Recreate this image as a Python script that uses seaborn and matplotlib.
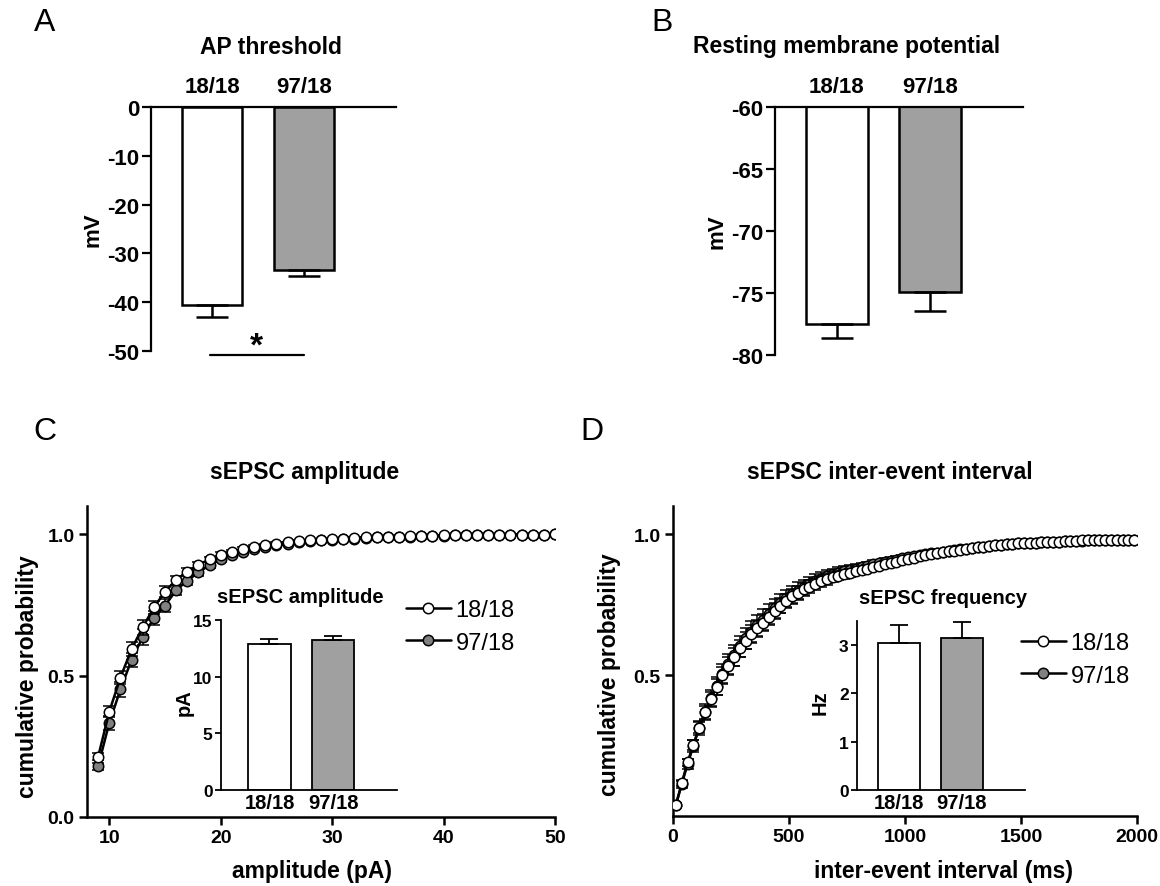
import numpy as np
import pandas as pd
import matplotlib
matplotlib.use("Agg")
import matplotlib.pyplot as plt
import seaborn as sns

# ---- data ----
groups = ["18/18", "97/18"]
bar_colors = ["white", "#a0a0a0"]
dot_colors = ["white", "#808080"]

ap_mean = [-40.6, -33.5]      # mV
ap_sem = [2.4, 1.1]

rmp_mean = [-77.5, -74.9]     # mV
rmp_sem = [1.15, 1.55]

amp_mean = [12.92, 13.24]     # pA
amp_sem = [0.44, 0.32]

freq_mean = [3.04, 3.15]      # Hz
freq_sem = [0.37, 0.33]

# cumulative amplitude distribution, 1 pA bins
amp_x = list(range(9, 51))
amp_18 = [0.213, 0.373, 0.493, 0.594, 0.671, 0.741, 0.797, 0.838, 0.868, 0.891,
          0.912, 0.928, 0.939, 0.948, 0.956, 0.962, 0.967, 0.971, 0.975, 0.978,
          0.981, 0.983, 0.985, 0.987, 0.989, 0.990, 0.991, 0.992, 0.993, 0.994,
          0.995, 0.996, 0.996, 0.997, 0.997, 0.998, 0.998, 0.998, 0.999, 0.999,
          0.999, 1.000]
amp_97 = [0.180, 0.333, 0.451, 0.556, 0.636, 0.704, 0.748, 0.802, 0.836, 0.865,
          0.891, 0.912, 0.927, 0.939, 0.948, 0.956, 0.962, 0.967, 0.971, 0.975,
          0.978, 0.981, 0.983, 0.985, 0.987, 0.989, 0.990, 0.991, 0.992, 0.993,
          0.994, 0.995, 0.996, 0.996, 0.997, 0.997, 0.998, 0.998, 0.999, 0.999,
          0.999, 1.000]
amp_18_sem = [0.012, 0.020, 0.024, 0.026, 0.026, 0.024, 0.020, 0.016, 0.013, 0.011,
              0.009, 0.008, 0.007, 0.006, 0.005, 0.004, 0.004, 0.003, 0.003, 0.003,
              0.002, 0.002, 0.002, 0.002, 0.002, 0.001, 0.001, 0.001, 0.001, 0.001,
              0.001, 0.001, 0.001, 0.001, 0.001, 0.001, 0.001, 0.001, 0.001, 0.001,
              0.001, 0.001]
amp_97_sem = [0.012, 0.026, 0.025, 0.024, 0.028, 0.026, 0.024, 0.018, 0.015, 0.012,
              0.010, 0.009, 0.008, 0.007, 0.006, 0.005, 0.004, 0.004, 0.003, 0.003,
              0.003, 0.002, 0.002, 0.002, 0.002, 0.002, 0.001, 0.001, 0.001, 0.001,
              0.001, 0.001, 0.001, 0.001, 0.001, 0.001, 0.001, 0.001, 0.001, 0.001,
              0.001, 0.001]

# cumulative inter-event interval distribution, 25 ms bins (bin centres)
iei_x = np.arange(12.5, 2000, 25)
iei_18 = [0.039, 0.116, 0.190, 0.252, 0.314, 0.368, 0.415, 0.459, 0.500, 0.533,
          0.565, 0.595, 0.622, 0.645, 0.666, 0.686, 0.706, 0.727, 0.746, 0.763,
          0.779, 0.792, 0.804, 0.814, 0.824, 0.833, 0.840, 0.847, 0.853, 0.858,
          0.863, 0.868, 0.873, 0.878, 0.883, 0.888, 0.893, 0.898, 0.903, 0.907,
          0.912, 0.917, 0.921, 0.925, 0.929, 0.932, 0.936, 0.939, 0.942, 0.945,
          0.948, 0.951, 0.953, 0.955, 0.958, 0.960, 0.962, 0.964, 0.966, 0.967,
          0.968, 0.969, 0.970, 0.971, 0.972, 0.973, 0.974, 0.975, 0.976, 0.977,
          0.978, 0.978, 0.979, 0.979, 0.980, 0.980, 0.980, 0.981, 0.981, 0.981]
iei_97 = [0.040, 0.112, 0.184, 0.248, 0.312, 0.368, 0.417, 0.462, 0.504, 0.538,
          0.571, 0.602, 0.630, 0.654, 0.676, 0.697, 0.717, 0.737, 0.755, 0.772,
          0.787, 0.800, 0.812, 0.823, 0.833, 0.842, 0.850, 0.857, 0.863, 0.868,
          0.873, 0.878, 0.883, 0.888, 0.893, 0.897, 0.902, 0.906, 0.910, 0.914,
          0.918, 0.922, 0.926, 0.929, 0.932, 0.935, 0.938, 0.941, 0.944, 0.947,
          0.949, 0.952, 0.954, 0.956, 0.958, 0.960, 0.962, 0.964, 0.965, 0.967,
          0.968, 0.969, 0.970, 0.971, 0.972, 0.973, 0.974, 0.975, 0.976, 0.977,
          0.977, 0.978, 0.978, 0.979, 0.979, 0.980, 0.980, 0.980, 0.981, 0.981]
iei_18_sem = [0.005, 0.010, 0.014, 0.018, 0.021, 0.024, 0.026, 0.028, 0.029, 0.030,
              0.031, 0.031, 0.031, 0.031, 0.030, 0.030, 0.029, 0.028, 0.027, 0.026,
              0.025, 0.024, 0.023, 0.022, 0.021, 0.020, 0.019, 0.018, 0.017, 0.016,
              0.015, 0.014, 0.013, 0.013, 0.012, 0.011, 0.011, 0.010, 0.010, 0.009,
              0.009, 0.008, 0.008, 0.008, 0.007, 0.007, 0.007, 0.006, 0.006, 0.006,
              0.006, 0.005, 0.005, 0.005, 0.005, 0.005, 0.004, 0.004, 0.004, 0.004,
              0.004, 0.004, 0.004, 0.004, 0.003, 0.003, 0.003, 0.003, 0.003, 0.003,
              0.003, 0.003, 0.003, 0.003, 0.003, 0.003, 0.003, 0.003, 0.003, 0.003]
iei_97_sem = [0.005, 0.012, 0.017, 0.021, 0.025, 0.028, 0.031, 0.033, 0.035, 0.036,
              0.037, 0.038, 0.038, 0.038, 0.037, 0.036, 0.035, 0.034, 0.033, 0.031,
              0.030, 0.029, 0.027, 0.026, 0.025, 0.023, 0.022, 0.021, 0.020, 0.019,
              0.018, 0.017, 0.016, 0.015, 0.014, 0.013, 0.013, 0.012, 0.011, 0.011,
              0.010, 0.010, 0.009, 0.009, 0.008, 0.008, 0.008, 0.007, 0.007, 0.007,
              0.006, 0.006, 0.006, 0.006, 0.005, 0.005, 0.005, 0.005, 0.005, 0.004,
              0.004, 0.004, 0.004, 0.004, 0.004, 0.004, 0.004, 0.004, 0.004, 0.004,
              0.004, 0.004, 0.004, 0.004, 0.004, 0.004, 0.004, 0.004, 0.004, 0.004]

# ---- style ----
sns.set_style("ticks")
plt.rcParams["font.family"] = ["Liberation Sans", "DejaVu Sans"]
plt.rcParams["font.weight"] = "bold"
plt.rcParams["axes.labelweight"] = "bold"
plt.rcParams["axes.unicode_minus"] = False
for key in ["text.color", "axes.labelcolor", "xtick.color", "ytick.color",
            "axes.edgecolor"]:
    plt.rcParams[key] = "black"

W, H = 1160, 887
fig = plt.figure(figsize=(W / 100, H / 100), dpi=100)


def px_box(left, top, right, bottom):
    return [left / W, 1 - bottom / H, (right - left) / W, (bottom - top) / H]


def bar_panel(ax, means, sems, lw, capsize, down=True):
    df = pd.DataFrame({"group": groups, "val": means})
    sns.barplot(data=df, x="group", y="val", hue="group", order=groups,
                hue_order=groups, palette=bar_colors, width=0.66,
                edgecolor="black", linewidth=lw, errorbar=None,
                legend=False, ax=ax)
    zeros = [0] * len(sems)
    yerr = [sems, zeros] if down else [zeros, sems]
    ax.errorbar(range(len(means)), means, yerr=yerr, fmt="none",
                ecolor="black", elinewidth=lw, capsize=capsize, capthick=lw,
                zorder=4)
    ax.set_xlabel("")


def style_top_bar(ax, ylim, yticks, title, title_x):
    ax.set_ylim(*ylim)
    ax.set_xlim(-0.665, 2.0)
    ax.set_yticks(yticks)
    ax.xaxis.tick_top()
    ax.tick_params(axis="x", length=0, labelsize=16, pad=7)
    ax.tick_params(axis="y", length=6.5, width=1.6, labelsize=16, pad=2)
    for s in ["bottom", "right"]:
        ax.spines[s].set_visible(False)
    for s in ["top", "left"]:
        ax.spines[s].set_linewidth(1.6)
    ax.set_ylabel("mV", fontsize=16)
    ax.yaxis.label.set_va("center")
    ax.yaxis.set_label_coords(-0.235, 0.5)
    ax.text(title_x, 1.25, title, transform=ax.transAxes, ha="center",
            va="center", fontsize=16.5, weight="bold")


# ---- A: AP threshold ----
axA = fig.add_axes(px_box(151, 108, 396, 352))
bar_panel(axA, ap_mean, ap_sem, 1.8, 11.5)
style_top_bar(axA, (-50, 0), range(-50, 1, 10), "AP threshold", 0.49)
axA.plot([-0.02, 1.0], [-50.8, -50.8], color="black", lw=1.6, clip_on=False)
axA.text(0.48, -49.0, "*", fontsize=24, ha="center", va="center",
         weight="bold", clip_on=False)

# ---- B: resting membrane potential ----
axB = fig.add_axes(px_box(775, 108, 1023, 356))
bar_panel(axB, rmp_mean, rmp_sem, 1.8, 11.5)
style_top_bar(axB, (-80, -60), range(-80, -59, 5),
              "Resting membrane potential", 0.29)


# ---- cumulative plots ----
def cum_panel(ax, x, y18, y97, s18, s97):
    for y, s, fc, lab, z in [(y97, s97, dot_colors[1], groups[1], 2),
                             (y18, s18, dot_colors[0], groups[0], 4)]:
        ax.errorbar(x, y, yerr=s, fmt="none", ecolor="black", elinewidth=1.1,
                    capsize=4, capthick=1.1, zorder=z)
        sns.lineplot(x=x, y=y, ax=ax, color="black", lw=1.8, marker="o",
                     markersize=7.5, markerfacecolor=fc,
                     markeredgecolor="black", markeredgewidth=1.1,
                     label=lab, zorder=z + 1)
    ax.set_ylim(0, 1.1)
    for s in ["top", "right"]:
        ax.spines[s].set_visible(False)
    for s in ["left", "bottom"]:
        ax.spines[s].set_linewidth(1.8)
    ax.tick_params(length=6, width=1.8, labelsize=14, pad=3)
    ax.set_ylabel("cumulative probability", fontsize=16.5)
    ax.yaxis.label.set_va("center")


def cum_legend(ax, left, top):
    h, l = ax.get_legend_handles_labels()
    order = [l.index(g) for g in groups]
    ax.legend([h[i] for i in order], [l[i] for i in order], loc="upper left",
              bbox_to_anchor=(left / W, 1 - top / H),
              bbox_transform=fig.transFigure, frameon=False,
              prop={"family": ["Liberation Sans"], "size": 17,
                    "weight": "normal"},
              handlelength=1.9, handletextpad=0.2, borderpad=0,
              borderaxespad=0, labelspacing=0.45)


def inset_bar(ax, means, sems, ylim, yticks, ylabel, title, title_x,
              xlim_left):
    bar_panel(ax, means, sems, 1.3, 6.5, down=False)
    ax.set_facecolor("none")
    ax.set_ylim(*ylim)
    ax.set_yticks(yticks)
    ax.set_xlim(xlim_left, 2.0)
    for s in ["top", "right"]:
        ax.spines[s].set_visible(False)
    for s in ["left", "bottom"]:
        ax.spines[s].set_linewidth(1.3)
    ax.tick_params(axis="x", length=0, labelsize=14.5, pad=2)
    ax.tick_params(axis="y", length=4.5, width=1.3, labelsize=12.5, pad=1.5)
    ax.set_ylabel(ylabel, fontsize=14.5)
    ax.yaxis.label.set_va("center")
    ax.yaxis.set_label_coords(-0.21, 0.52)
    ax.text(title_x, 1.14, title, transform=ax.transAxes, ha="center",
            va="center", fontsize=14.5, weight="bold")


# C: amplitude
axC = fig.add_axes(px_box(87, 507, 555, 818))
cum_panel(axC, amp_x, amp_18, amp_97, amp_18_sem, amp_97_sem)
axC.set_xlim(8, 50)
axC.set_xticks(range(10, 51, 10))
axC.set_yticks([0, 0.5, 1.0], ["0.0", "0.5", "1.0"])
axC.set_xlabel("amplitude (pA)", fontsize=16.5)
axC.xaxis.set_label_coords(0.481, -0.135)
axC.yaxis.set_label_coords(-0.127, 0.455)
axC.text(0.464, 1.11, "sEPSC amplitude", transform=axC.transAxes,
         ha="center", va="center", fontsize=16.5, weight="bold")
cum_legend(axC, 406, 600)

axCi = fig.add_axes(px_box(221, 621, 397, 791))
inset_bar(axCi, amp_mean, amp_sem, (0, 15), [0, 5, 10, 15], "pA",
          "sEPSC amplitude", 0.45, -0.76)

# D: inter-event interval
axD = fig.add_axes(px_box(673, 507, 1137, 817))
cum_panel(axD, iei_x, iei_18, iei_97, iei_18_sem, iei_97_sem)
axD.set_xlim(0, 2000)
axD.set_xticks(range(0, 2001, 500))
axD.set_yticks([0.5, 1.0], ["0.5", "1.0"])
axD.set_xlabel("inter-event interval (ms)", fontsize=16.5)
axD.xaxis.set_label_coords(0.582, -0.139)
axD.yaxis.set_label_coords(-0.1375, 0.458)
axD.text(0.468, 1.11, "sEPSC inter-event interval", transform=axD.transAxes,
         ha="center", va="center", fontsize=16.5, weight="bold")
cum_legend(axD, 1021, 633)

axDi = fig.add_axes(px_box(857, 622, 1025, 791))
inset_bar(axDi, freq_mean, freq_sem, (0, 3.5), [0, 1, 2, 3], "Hz",
          "sEPSC frequency", 0.515, -0.66)
axDi.yaxis.set_label_coords(-0.22, 0.52)

# panel letters
for letter, (x, y) in {"A": (45, 23), "B": (662, 23),
                       "C": (45, 432), "D": (592, 432)}.items():
    fig.text(x / W, 1 - y / H, letter, fontsize=23, weight="normal",
             ha="center", va="center")

fig.savefig("out.png", dpi=100)
